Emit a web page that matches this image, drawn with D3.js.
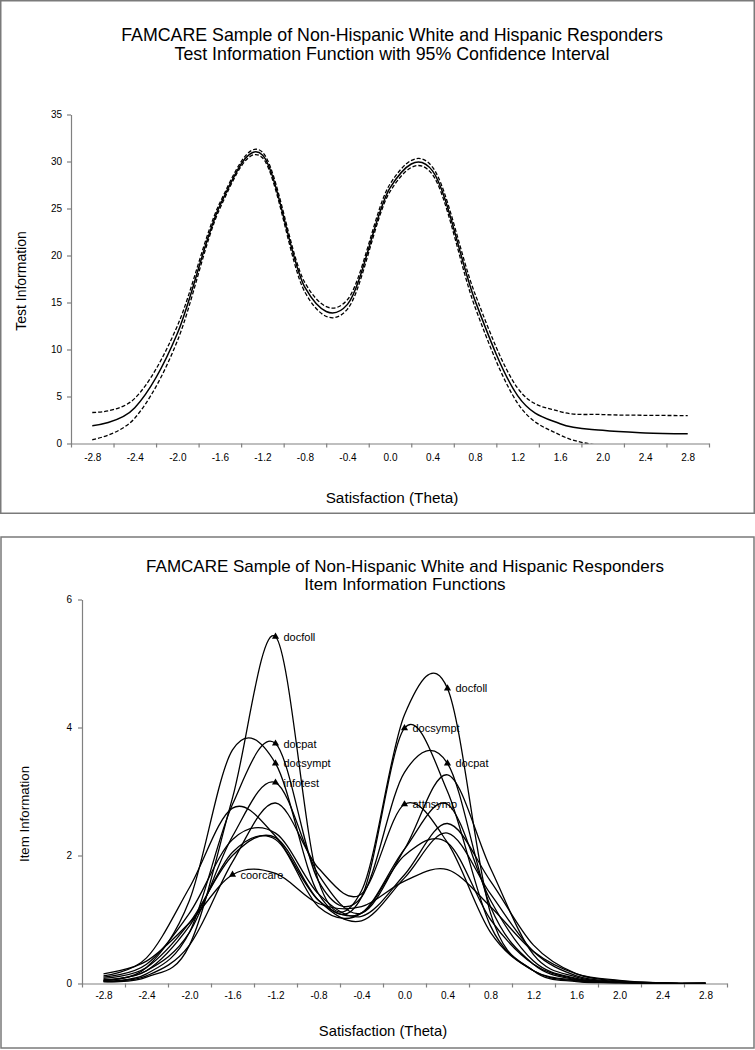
<!DOCTYPE html>
<html><head><meta charset="utf-8">
<script src="https://cdn.jsdelivr.net/npm/d3@7"></script>
<style>
body{margin:0;background:#fff}
svg{display:block}
text{font-family:Arial,"Liberation Sans",sans-serif;fill:#000}
</style>
</head><body>
<svg id="c" width="755" height="1050"></svg>
<script>
// ---- categories (theta) and tick labels ----
const theta = [-2.8,-2.4,-2.0,-1.6,-1.2,-0.8,-0.4,0.0,0.4,0.8,1.2,1.6,2.0,2.4,2.8];
const thetaLabels = ["-2.8","-2.4","-2.0","-1.6","-1.2","-0.8","-0.4","0.0","0.4","0.8","1.2","1.6","2.0","2.4","2.8"];
const topYTicks = [0,5,10,15,20,25,30,35];
const botYTicks = [0,2,4,6];

// ---- test information function with 95% CI ----
const tif      = [1.9, 3.8, 11.7, 25.3, 30.7, 16.6, 14.8, 27.2, 29.0, 15.2, 5.1, 2.1, 1.4, 1.13, 1.03];
const tifUpper = [3.3, 4.8, 12.5, 25.6, 31.0, 17.1, 15.3, 27.6, 29.4, 15.9, 5.9, 3.4, 3.08, 3.0, 2.97];
const tifLower = [0.4, 2.7, 10.9, 25.0, 30.4, 16.1, 14.3, 26.8, 28.6, 14.5, 4.3, 0.9, -0.28, -0.74, -0.91];

// ---- item information functions ----
const docfoll  = [0.03, 0.10, 0.60, 2.90, 5.42, 1.60, 1.45, 4.20, 4.61, 1.10, 0.20, 0.03, 0.01, 0.0, 0.0];
const docsympt = [0.05, 0.25, 1.30, 3.65, 3.44, 1.40, 1.35, 3.99, 3.00, 0.90, 0.20, 0.04, 0.01, 0.0, 0.0];
const docpat   = [0.04, 0.15, 0.80, 2.80, 3.75, 1.60, 1.35, 3.30, 3.44, 1.20, 0.30, 0.06, 0.01, 0.0, 0.0];
const infotest = [0.05, 0.20, 0.80, 2.30, 3.14, 1.70, 1.10, 2.10, 3.26, 1.80, 0.45, 0.10, 0.02, 0.0, 0.0];
const attnsymp = [0.03, 0.12, 0.60, 1.90, 2.82, 1.80, 1.40, 2.80, 2.20, 0.80, 0.20, 0.05, 0.01, 0.0, 0.0];
const coorcare = [0.15, 0.35, 0.95, 1.70, 1.72, 1.25, 1.20, 1.60, 1.78, 1.20, 0.50, 0.15, 0.05, 0.01, 0.0];
const itemG    = [0.12, 0.40, 1.50, 2.74, 2.30, 1.30, 1.10, 2.00, 2.20, 1.00, 0.30, 0.07, 0.02, 0.0, 0.0];
const itemH    = [0.10, 0.30, 1.10, 2.25, 2.35, 1.40, 1.05, 1.70, 2.50, 1.60, 0.60, 0.15, 0.04, 0.01, 0.0];
const itemI    = [0.08, 0.25, 0.95, 2.00, 2.28, 1.30, 0.98, 1.65, 2.35, 1.40, 0.50, 0.12, 0.03, 0.01, 0.0];
const itemJ    = [0.06, 0.20, 0.90, 2.05, 2.25, 1.20, 1.10, 2.10, 2.80, 1.30, 0.35, 0.08, 0.02, 0.0, 0.0];

const itemNames = ["docfoll","docsympt","docpat","infotest","attnsymp","coorcare","itemG","itemH","itemI","itemJ"];
const itemValues = [docfoll,docsympt,docpat,infotest,attnsymp,coorcare,itemG,itemH,itemI,itemJ];

// labelled points: item name and theta
const markerItems  = ["docfoll","docpat","docsympt","infotest","coorcare","docfoll","docsympt","docpat","attnsymp"];
const markerThetas = [-1.2, -1.2, -1.2, -1.2, -1.6, 0.4, 0.0, 0.4, 0.0];

// ---------------------------------------------------------------
const svg = d3.select("#c");
svg.append("rect").attr("width",755).attr("height",1050).attr("fill","#fff");

const frameColor = "#7a7a7a";
svg.append("rect").attr("x",0.75).attr("y",0.75).attr("width",753.5).attr("height",512.5)
  .attr("fill","none").attr("stroke",frameColor).attr("stroke-width",1.5);
svg.append("rect").attr("x",1).attr("y",537).attr("width",753).attr("height",511)
  .attr("fill","none").attr("stroke",frameColor).attr("stroke-width",1.5);

const axisColor = "#808080";
const edges = d3.range(theta.length+1).map(i => theta[0] - 0.2 + 0.4*i);
const smooth = d3.curveCardinal.tension(0);

function drawChart(cfg){
  const x = d3.scaleLinear().domain([edges[0], edges[edges.length-1]]).range([cfg.left, cfg.right]);
  const y = d3.scaleLinear().domain(cfg.yDomain).range([cfg.bottom, cfg.top]);
  const g = svg.append("g");

  const xa = g.append("g").attr("transform",`translate(0,${cfg.bottom})`)
    .call(d3.axisBottom(x).tickValues(edges).tickFormat("").tickSize(4).tickSizeOuter(0));
  const xl = g.append("g").attr("transform",`translate(0,${cfg.bottom})`)
    .call(d3.axisBottom(x).tickValues(theta).tickFormat((d,i)=>thetaLabels[i]).tickSize(0).tickPadding(cfg.xPad));
  xl.select(".domain").remove();
  xl.selectAll("text").attr("font-size",cfg.tickFont).attr("font-family",null);

  const ya = g.append("g").attr("transform",`translate(${cfg.left},0)`)
    .call(d3.axisLeft(y).tickValues(cfg.yTicks).tickFormat(d3.format("d")).tickSize(4).tickSizeOuter(0).tickPadding(cfg.yPad));
  ya.selectAll("text").attr("font-size",cfg.tickFont).attr("font-family",null);
  [xa,ya].forEach(a=>{a.select(".domain").attr("stroke",axisColor).attr("stroke-width",1.2);
                     a.selectAll(".tick line").attr("stroke",axisColor).attr("stroke-width",1.2);});

  cfg.title.forEach((t,i)=>{
    g.append("text").attr("x",cfg.titleX).attr("y",cfg.titleY[i]).attr("text-anchor","middle")
      .attr("font-size",cfg.titleFont).text(t);
  });
  g.append("text").attr("transform",`translate(${cfg.yLabelX},${cfg.yLabelY}) rotate(-90)`)
    .attr("text-anchor","middle").attr("dominant-baseline","central")
    .attr("font-size",cfg.yLabelFont).text(cfg.yLabel);
  g.append("text").attr("x",cfg.xLabelX).attr("y",cfg.xLabelY).attr("text-anchor","middle")
    .attr("font-size",cfg.xLabelFont).text("Satisfaction (Theta)");

  const clipId = "clip"+cfg.id;
  svg.append("clipPath").attr("id",clipId).append("rect")
    .attr("x",cfg.left).attr("y",cfg.top-20).attr("width",cfg.right-cfg.left).attr("height",cfg.bottom-cfg.top+20);
  const plot = g.append("g").attr("clip-path",`url(#${clipId})`);
  return {x,y,plot,g};
}

// ---------- top chart ----------
const topC = drawChart({id:"t", left:71, right:709, top:114.5, bottom:443.5, yDomain:[0,35], yTicks:topYTicks,
  tickFont:"10px", xPad:10, yPad:5,
  title:["FAMCARE Sample of Non-Hispanic White and Hispanic Responders","Test Information Function with 95% Confidence Interval"],
  titleX:392, titleY:[41,59.5], titleFont:"17.8px",
  yLabel:"Test Information", yLabelX:21, yLabelY:281, yLabelFont:"14px",
  xLabelX:392, xLabelY:503, xLabelFont:"15.3px"});

const lineTop = d3.line().x((d,i)=>topC.x(theta[i])).y(d=>topC.y(d)).curve(smooth);
topC.plot.append("path").datum(tifUpper).attr("d",lineTop).attr("fill","none").attr("stroke","#000")
  .attr("stroke-width",1.3).attr("stroke-dasharray","4,2");
topC.plot.append("path").datum(tifLower).attr("d",lineTop).attr("fill","none").attr("stroke","#000")
  .attr("stroke-width",1.3).attr("stroke-dasharray","4,2");
topC.plot.append("path").datum(tif).attr("d",lineTop).attr("fill","none").attr("stroke","#000")
  .attr("stroke-width",1.5);

// ---------- bottom chart ----------
const botC = drawChart({id:"b", left:82, right:727, top:599.5, bottom:983.5, yDomain:[0,6], yTicks:botYTicks,
  tickFont:"10px", xPad:8, yPad:6,
  title:["FAMCARE Sample of Non-Hispanic White and Hispanic Responders","Item Information Functions"],
  titleX:405, titleY:[572,590], titleFont:"17px",
  yLabel:"Item Information", yLabelX:24, yLabelY:814, yLabelFont:"13.3px",
  xLabelX:383, xLabelY:1036, xLabelFont:"14.8px"});

const lineBot = d3.line().x((d,i)=>botC.x(theta[i])).y(d=>botC.y(d)).curve(smooth);
botC.plot.selectAll("path.item").data(itemValues).join("path").attr("class","item")
  .attr("d",lineBot).attr("fill","none").attr("stroke","#000").attr("stroke-width",1.3);

const tri = d3.symbol().type(d3.symbolTriangle).size(22);
markerItems.forEach((name,k)=>{
  const vals = itemValues[itemNames.indexOf(name)];
  const idx = theta.findIndex(t=>Math.abs(t-markerThetas[k])<1e-9);
  const px = botC.x(theta[idx]), py = botC.y(vals[idx]);
  botC.g.append("path").attr("d",tri).attr("transform",`translate(${px},${py})`).attr("fill","#000");
  botC.g.append("text").attr("x",px+8).attr("y",py).attr("dominant-baseline","central")
    .attr("font-size","11px").text(name);
});
</script>
</body></html>
